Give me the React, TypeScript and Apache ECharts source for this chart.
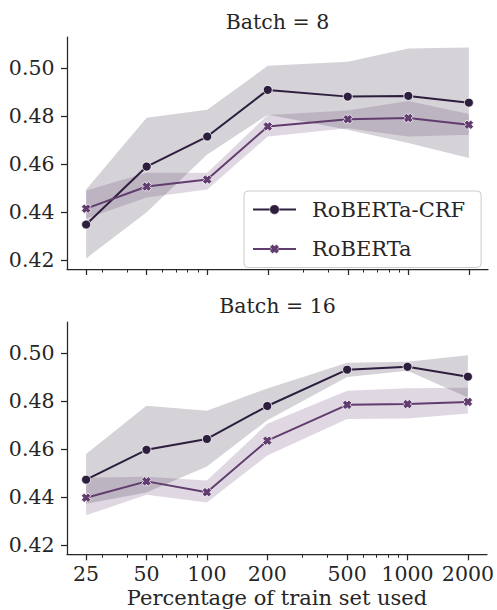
import React, { useEffect, useRef } from 'react';
import * as echarts from 'echarts';

// ---- data ----
const trainPct = [25, 50, 100, 200, 500, 1000, 2000];
const xMajorTicks = [25, 50, 100, 200, 500, 1000, 2000];
const xMinorTicks = [30, 40, 60, 70, 80, 90, 300, 400, 600, 700, 800, 900];
const yTicks = [0.42, 0.44, 0.46, 0.48, 0.5];
const seriesNames = ['RoBERTa-CRF', 'RoBERTa'];
const panelTitles = ['Batch = 8', 'Batch = 16'];

// Batch = 8
const crf8 = [0.4348, 0.4589, 0.4714, 0.4908, 0.488, 0.4883, 0.4855];
const crf8Lo = [0.4207, 0.4399, 0.4639, 0.4805, 0.4742, 0.4687, 0.4625];
const crf8Hi = [0.4494, 0.4792, 0.4825, 0.5008, 0.5025, 0.508, 0.5084];
const rob8 = [0.4414, 0.4506, 0.4535, 0.4756, 0.4786, 0.4791, 0.4763];
const rob8Lo = [0.4373, 0.446, 0.4494, 0.4714, 0.4748, 0.4714, 0.4721];
const rob8Hi = [0.449, 0.4563, 0.4563, 0.4804, 0.4822, 0.4862, 0.4808];

// Batch = 16
const crf16 = [0.4473, 0.4597, 0.4642, 0.4779, 0.493, 0.4942, 0.4901];
const crf16Lo = [0.4373, 0.442, 0.4528, 0.472, 0.49, 0.4925, 0.4814];
const crf16Hi = [0.458, 0.478, 0.4759, 0.4852, 0.4959, 0.4963, 0.499];
const rob16 = [0.4398, 0.4466, 0.4421, 0.4635, 0.4784, 0.4787, 0.4796];
const rob16Lo = [0.4325, 0.441, 0.4378, 0.4573, 0.4725, 0.4727, 0.4748];
const rob16Hi = [0.4481, 0.4485, 0.447, 0.4705, 0.4842, 0.4853, 0.4855];

// ---- style ----
const FONT = 'DejaVu Serif';
const FS = 20.5;
const FS_BIG = 21;
const TXT = '#262626';
const CRF_COLOR = '#2d1e3e';
const ROB_COLOR = '#603c6f';
const CRF_BAND = 'rgba(45,30,62,0.2)';
const ROB_BAND = 'rgba(96,60,111,0.2)';
const X_SYMBOL = 'path://M30 0L50 20L70 0L100 30L80 50L100 70L70 100L50 80L30 100L0 70L20 50L0 30Z';

const L = (v: number) => Math.log10(v);
const X_MIN = L(25) - 0.05 * (L(2000) - L(25));
const X_MAX = L(2000) + 0.05 * (L(2000) - L(25));
const Y_MIN = 0.4163;
const Y_MAX = 0.5128;

function bandSeries(lo: number[], hi: number[], fill: string, g: number) {
  return {
    type: 'custom',
    coordinateSystem: 'cartesian2d',
    xAxisIndex: g * 2,
    yAxisIndex: g,
    silent: true,
    z: 1,
    data: [[L(trainPct[0]), lo[0]]],
    renderItem: (_p: any, api: any) => {
      const upper = trainPct.map((p, i) => api.coord([L(p), hi[i]]));
      const lower = trainPct.map((p, i) => api.coord([L(p), lo[i]])).reverse();
      return {
        type: 'polygon',
        shape: { points: upper.concat(lower) },
        style: { fill },
      };
    },
  };
}

function lineSeries(name: string, vals: number[], color: string, symbol: string, size: number, g: number) {
  return {
    type: 'line',
    name,
    xAxisIndex: g * 2,
    yAxisIndex: g,
    data: trainPct.map((p, i) => [L(p), vals[i]]),
    symbol,
    symbolSize: size,
    showSymbol: true,
    lineStyle: { color, width: 2 },
    itemStyle: { color, borderColor: '#ffffff', borderWidth: 0.8 },
    z: 3,
  };
}

function xAxes(g: number) {
  const major: any = {
    type: 'value',
    gridIndex: g,
    min: X_MIN,
    max: X_MAX,
    position: 'bottom',
    axisLine: { show: true, lineStyle: { color: TXT, width: 1.25 } },
    axisTick: {
      show: true,
      length: 6,
      lineStyle: { color: TXT, width: 1.25 },
      customValues: xMajorTicks.map(L),
    },
    axisLabel: {
      show: g === 1,
      customValues: xMajorTicks.map(L),
      formatter: (v: number) => String(Math.round(Math.pow(10, v))),
      fontFamily: FONT,
      fontSize: FS,
      color: TXT,
      margin: 9,
    },
    splitLine: { show: false },
  };
  if (g === 1) {
    major.name = 'Percentage of train set used';
    major.nameLocation = 'middle';
    major.nameGap = 33;
    major.nameTextStyle = { fontFamily: FONT, fontSize: FS_BIG, color: TXT };
  }
  const minor = {
    type: 'value',
    gridIndex: g,
    min: X_MIN,
    max: X_MAX,
    position: 'bottom',
    axisLine: { show: false },
    axisTick: {
      show: true,
      length: 3.5,
      lineStyle: { color: TXT, width: 1 },
      customValues: xMinorTicks.map(L),
    },
    axisLabel: { show: false },
    splitLine: { show: false },
  };
  return [major, minor];
}

function yAxis(g: number) {
  return {
    type: 'value',
    gridIndex: g,
    min: Y_MIN,
    max: Y_MAX,
    axisLine: { show: true, lineStyle: { color: TXT, width: 1.25 } },
    axisTick: { show: true, length: 6, lineStyle: { color: TXT, width: 1.25 }, customValues: yTicks },
    axisLabel: {
      customValues: yTicks,
      formatter: (v: number) => v.toFixed(2),
      fontFamily: FONT,
      fontSize: FS,
      color: TXT,
      margin: 12.5,
    },
    splitLine: { show: false },
  };
}

export default function App() {
  const ref = useRef<HTMLDivElement>(null);
  useEffect(() => {
    const chart = echarts.init(ref.current!, null, { renderer: 'svg' });
    const option: any = {
      animation: false,
      backgroundColor: '#ffffff',
      title: panelTitles.map((t, i) => ({
        text: t,
        left: 277.5,
        top: i === 0 ? 11.5 : 295.5,
        textAlign: 'center',
        padding: 0,
        textStyle: { fontFamily: FONT, fontSize: FS, fontWeight: 'normal', color: TXT },
      })),
      grid: [
        { left: 67, top: 37, width: 421, height: 232 },
        { left: 67, top: 322, width: 421, height: 232.3 },
      ],
      xAxis: [...xAxes(0), ...xAxes(1)],
      yAxis: [yAxis(0), yAxis(1)],
      legend: {
        data: seriesNames,
        orient: 'vertical',
        left: 244,
        top: 191,
        padding: [8, 16, 8, 8],
        itemWidth: 43,
        itemHeight: 12,
        itemGap: 18.5,
        borderColor: '#cccccc',
        borderWidth: 1,
        borderRadius: 4,
        backgroundColor: 'rgba(255,255,255,0.8)',
        itemStyle: { borderWidth: 0.5 },
        textStyle: { fontFamily: FONT, fontSize: FS_BIG, color: TXT, padding: [0, 0, 0, 11] },
      },
      series: [
        bandSeries(crf8Lo, crf8Hi, CRF_BAND, 0),
        bandSeries(rob8Lo, rob8Hi, ROB_BAND, 0),
        lineSeries(seriesNames[0], crf8, CRF_COLOR, 'circle', 9, 0),
        lineSeries(seriesNames[1], rob8, ROB_COLOR, X_SYMBOL, 9.5, 0),
        bandSeries(crf16Lo, crf16Hi, CRF_BAND, 1),
        bandSeries(rob16Lo, rob16Hi, ROB_BAND, 1),
        lineSeries(seriesNames[0], crf16, CRF_COLOR, 'circle', 9, 1),
        lineSeries(seriesNames[1], rob16, ROB_COLOR, X_SYMBOL, 9.5, 1),
      ],
    };
    chart.setOption(option);
    return () => chart.dispose();
  }, []);
  return (
    <div
      ref={ref}
      style={{ position: 'absolute', left: 0, top: 0, width: 497, height: 610 }}
    />
  );
}
